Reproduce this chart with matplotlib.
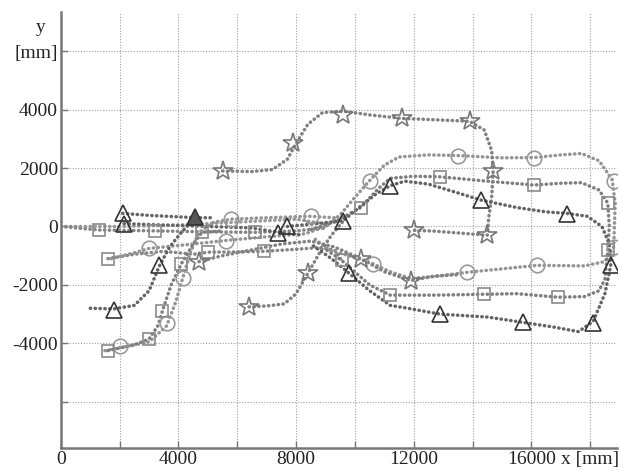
import matplotlib
matplotlib.use("Agg")
import matplotlib.pyplot as plt

plt.rcParams['font.family'] = ['Liberation Serif', 'DejaVu Serif']

# trajectories, (x, y) in mm
circ_a = [(1700, -1100), (2500, -900), (3000, -750), (4500, -600), (5600, -480), (7000, -350),
          (8300, -250), (9000, 0), (9500, 400), (10000, 1000), (10500, 1570), (11000, 2100),
          (11500, 2380), (12500, 2450), (13500, 2430), (15000, 2350), (16100, 2360), (17000, 2450),
          (17700, 2500), (18300, 2250), (18750, 1600), (18850, 800), (18800, -700), (18500, -1200),
          (17800, -1350), (16200, -1330), (15000, -1450), (13800, -1570), (12800, -1700),
          (11900, -1780), (11200, -1550), (10600, -1270), (9800, -1000), (9150, -820), (8600, -400)]
circ_a_marks = [(3000, -750), (5600, -480), (10500, 1570), (13500, 2430), (16100, 2360),
                (18800, 1570), (18800, -700), (16200, -1330), (13800, -1570), (10600, -1270)]

circ_b = [(1500, -4250), (2000, -4150), (3000, -3950), (3600, -3400), (3900, -2600), (4150, -1750),
          (4400, -900), (4700, -200), (5200, 150), (5800, 250), (7000, 300), (8500, 350), (9300, 300)]
circ_b_marks = [(2000, -4100), (3600, -3300), (4150, -1750), (5800, 270), (8500, 370)]

circ_c = [(0, 0), (2000, 0), (4000, 50), (6000, 150), (8000, 250), (9200, 50)]
circ_c_marks = []

sq_a = [(8500, -100), (9300, 150), (10200, 650), (10800, 1300), (11200, 1650), (12000, 1720),
        (12900, 1700), (14500, 1550), (16100, 1420), (17000, 1480), (17700, 1500), (18300, 1250),
        (18600, 800), (18650, 0), (18600, -800), (18500, -1800), (18300, -2200), (17800, -2400),
        (16900, -2420), (15500, -2300), (14400, -2320), (12800, -2350), (11200, -2350),
        (10500, -2000), (9550, -1160), (9000, -780)]
sq_a_marks = [(10200, 650), (12900, 1700), (16100, 1420), (18600, 800), (18600, -800),
              (16900, -2420), (14400, -2320), (11200, -2350), (9550, -1160)]

sq_b = [(1600, -4250), (2500, -4050), (3000, -3850), (3300, -3400), (3450, -2900), (3750, -2000),
        (4100, -1270), (4500, -600), (4800, -200), (5500, -150)]
sq_b_marks = [(1600, -4250), (3000, -3850), (3450, -2900), (4100, -1270), (4800, -200)]

sq_c = [(0, 0), (1300, -120), (3200, -150), (4800, -180), (6600, -200), (8000, -150), (9000, -50)]
sq_c_marks = [(1300, -120), (3200, -150), (6600, -200)]

sq_d = [(1600, -1100), (2500, -950), (3500, -850), (4500, -950), (5000, -880), (6000, -870),
        (6900, -850), (8000, -780), (8800, -720), (9300, -800), (9550, -1160)]
sq_d_marks = [(1600, -1100), (5000, -880), (6900, -850)]

tri_a = [(2100, 450), (3000, 380), (4000, 330), (4600, 300), (5200, 300)]
tri_a_marks = [(2100, 450)]

tri_b = [(2150, 100), (3500, 50), (5000, 0), (6500, -50), (7400, -200), (8200, -300)]
tri_b_marks = [(2150, 80), (7400, -240)]

tri_c = [(7700, 0), (8700, 100), (9600, 200), (10200, 700), (10700, 1100), (11200, 1400),
         (11700, 1550), (12500, 1450), (13500, 1150), (14300, 900), (15500, 650), (16500, 500),
         (17200, 450), (17900, 350), (18400, 0), (18650, -600), (18700, -1330), (18500, -2300),
         (18100, -3250), (17600, -3600), (16800, -3450), (15700, -3280), (14500, -3100),
         (12900, -3000), (11800, -2800), (11200, -2700), (10500, -2200), (9800, -1600),
         (9200, -1100), (8500, -600)]
tri_c_marks = [(7700, 0), (9600, 200), (11200, 1400), (14300, 900), (17200, 440), (18700, -1330),
               (18100, -3300), (15700, -3280), (12900, -3000), (9800, -1600)]

tri_d = [(1000, -2800), (1800, -2820), (2500, -2700), (3000, -2200), (3350, -1350), (3700, -700),
         (4100, -200), (4550, 300)]
tri_d_marks = [(1800, -2850), (3350, -1330)]
tri_filled = [(4550, 310)]

star_a = [(5500, 1900), (6500, 1880), (7200, 1950), (7700, 2300), (8000, 2850), (8400, 3500),
          (8900, 3900), (9600, 3950), (10500, 3820), (11600, 3700), (12800, 3650), (13900, 3600),
          (14400, 3300), (14650, 2600), (14700, 1900), (14650, 1000), (14550, 300), (14500, -300),
          (13500, -220), (12700, -160), (12000, -130)]
star_a_marks = [(5500, 1900), (7900, 2850), (9600, 3800), (11600, 3700), (13900, 3600),
                (14700, 1900), (14500, -300), (12000, -130)]

star_b = [(6400, -2750), (7000, -2720), (7600, -2650), (8000, -2300), (8400, -1600), (8800, -900),
          (9200, -300), (9700, 300)]
star_b_marks = [(6400, -2750), (8400, -1600)]

star_c = [(4700, -1200), (5500, -1000), (6500, -800), (7500, -600), (8500, -500), (9300, -700),
          (10200, -1100), (11000, -1550), (11900, -1850), (12700, -1700), (13500, -1650)]
star_c_marks = [(4700, -1200), (10200, -1100), (11900, -1850)]

x_ticks = [0, 2000, 4000, 6000, 8000, 10000, 12000, 14000, 16000, 18000]
x_labels = ['0', '', '4000', '', '8000', '', '12000', '', '16000', 'x [mm]']
y_ticks = [-6000, -4000, -2000, 0, 2000, 4000, 6000]
y_labels = ['', '-4000', '-2000', '0', '2000', '4000', '[mm]']

fig = plt.figure(figsize=(6.21, 4.71), dpi=100)
ax = fig.add_axes([0.098, 0.049, 0.895, 0.926])

dots = (0, (0.1, 1.3))


def draw(path, marks, line_c, mk, mk_c, ms):
    ax.plot([p[0] for p in path], [p[1] for p in path], color=line_c, lw=2.5,
            linestyle=dots, dash_capstyle='round', zorder=2)
    if marks:
        ax.plot([p[0] for p in marks], [p[1] for p in marks], ls='none', marker=mk,
                ms=ms, mfc='none', mec=mk_c, mew=1.2, zorder=3)


draw(circ_c, circ_c_marks, '#9a9a9a', 'o', '#999999', 10.5)
draw(sq_c, sq_c_marks, '#858585', 's', '#8a8a8a', 9)
draw(sq_d, sq_d_marks, '#858585', 's', '#8a8a8a', 9)
draw(circ_a, circ_a_marks, '#949494', 'o', '#999999', 10.5)
draw(circ_b, circ_b_marks, '#949494', 'o', '#999999', 10.5)
draw(sq_a, sq_a_marks, '#7e7e7e', 's', '#8a8a8a', 9)
draw(sq_b, sq_b_marks, '#7e7e7e', 's', '#8a8a8a', 9)
draw(star_a, star_a_marks, '#808080', '*', '#777777', 15)
draw(star_b, star_b_marks, '#808080', '*', '#777777', 15)
draw(star_c, star_c_marks, '#808080', '*', '#777777', 15)
draw(tri_a, tri_a_marks, '#666666', '^', '#333333', 12)
draw(tri_b, tri_b_marks, '#666666', '^', '#333333', 12)
draw(tri_c, tri_c_marks, '#636363', '^', '#333333', 12)
draw(tri_d, tri_d_marks, '#636363', '^', '#333333', 12)
ax.plot([p[0] for p in tri_filled], [p[1] for p in tri_filled], ls='none', marker='^',
        ms=12, mfc='#555555', mec='#333333', mew=1.2, zorder=3)

ax.set_xlim(0, 18900)
ax.set_ylim(-7580, 7350)

ax.set_xticks(x_ticks)
ax.set_xticklabels(x_labels)
ax.set_yticks(y_ticks)
ax.set_yticklabels(y_labels)
ax.tick_params(direction='in', length=5, width=1, colors='#777777', labelcolor='#222222',
               labelsize=14, pad=2)
ax.grid(True, linestyle=(0, (1, 1.5)), color='#a0a0a0', lw=0.8)
ax.text(-0.036, 6000 + 820, 'y', transform=ax.get_yaxis_transform(), ha='center', va='center',
        fontsize=14, color='#222222')

for s in ['top', 'right']:
    ax.spines[s].set_visible(False)
for s in ['left', 'bottom']:
    ax.spines[s].set_color('#777777')
    ax.spines[s].set_linewidth(1.8)

fig.savefig('out.png', dpi=100)
